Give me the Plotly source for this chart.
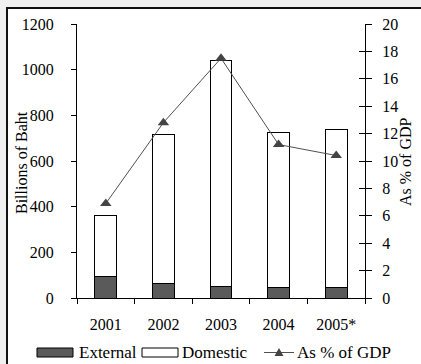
import plotly.graph_objects as go

# Public debt of Thailand, 2001-2005
years = ["2001", "2002", "2003", "2004", "2005*"]
external = [92, 63, 51, 48, 44]          # billions of baht
domestic = [268, 651, 991, 678, 695]     # billions of baht
pct_gdp = [6.9, 12.8, 17.5, 11.2, 10.4]  # as % of GDP

left_ticks = [0, 200, 400, 600, 800, 1000, 1200]
right_ticks = [0, 2, 4, 6, 8, 10, 12, 14, 16, 18, 20]

W, H = 421, 364
ML, MR, MT, MB = 77, 56, 24, 66
PW, PH = W - ML - MR, H - MT - MB

FONT = "Liberation Serif"
DARK = "#5a5a5a"
LINE = "#505050"


def px(x):
    return (x - ML) / PW


def py(y):
    return (H - MB - y) / PH


fig = go.Figure()

fig.add_trace(go.Bar(
    x=years, y=external, name="External",
    marker=dict(color=DARK, line=dict(color="black", width=1)),
    showlegend=False,
))
fig.add_trace(go.Bar(
    x=years, y=domestic, name="Domestic",
    marker=dict(color="white", line=dict(color="black", width=1)),
    showlegend=False,
))
fig.add_trace(go.Scatter(
    x=years, y=pct_gdp, name="As % of GDP", yaxis="y2",
    mode="lines+markers",
    line=dict(color=LINE, width=1),
    marker=dict(symbol="triangle-up", size=10, color="#444444"),
    showlegend=False,
))
# inner tick set on the right axis (ticks cross the axis line)
fig.add_trace(go.Scatter(x=years, y=pct_gdp, yaxis="y3", mode="none",
                         hoverinfo="skip", showlegend=False))

shapes = [
    # outer frame
    dict(type="rect", xref="paper", yref="paper", layer="below",
         x0=px(7), x1=px(W + 10), y0=py(H + 10), y1=py(8),
         fillcolor="white", line=dict(color="#111111", width=2)),
]

# legend swatches
sw_y0, sw_y1 = py(357), py(348)
shapes.append(dict(type="rect", xref="paper", yref="paper",
                   x0=px(37), x1=px(73), y0=sw_y0, y1=sw_y1,
                   fillcolor=DARK, line=dict(color="black", width=1)))
shapes.append(dict(type="rect", xref="paper", yref="paper",
                   x0=px(142), x1=px(178), y0=sw_y0, y1=sw_y1,
                   fillcolor="white", line=dict(color="black", width=1)))
shapes.append(dict(type="line", xref="paper", yref="paper",
                   x0=px(264), x1=px(294), y0=py(352.5), y1=py(352.5),
                   line=dict(color=LINE, width=1)))
tx, ty = 279, 352.5
shapes.append(dict(type="path", xref="paper", yref="paper",
                   path=f"M {px(tx - 4.5)} {py(ty + 3.5)} L {px(tx + 4.5)} {py(ty + 3.5)} "
                        f"L {px(tx)} {py(ty - 4.5)} Z",
                   fillcolor="#444444", line=dict(color="#444444", width=0)))

legend_labels = [("External", 77), ("Domestic", 180), ("As % of GDP", 295)]
annotations = [
    dict(text=t, xref="paper", yref="paper", x=px(x0), y=py(352),
         xanchor="left", yanchor="middle", showarrow=False,
         font=dict(family=FONT, size=17, color="black"))
    for t, x0 in legend_labels
]
# axis titles
annotations.append(dict(text="Billions of Baht", xref="paper", yref="paper",
                        x=px(21), y=py(163), textangle=-90, showarrow=False,
                        xanchor="center", yanchor="middle",
                        font=dict(family=FONT, size=16, color="black")))
annotations.append(dict(text="As % of GDP", xref="paper", yref="paper",
                        x=px(406), y=py(162), textangle=-90, showarrow=False,
                        xanchor="center", yanchor="middle",
                        font=dict(family=FONT, size=16, color="black")))

fig.update_layout(
    width=W, height=H,
    margin=dict(l=ML, r=MR, t=MT, b=MB, pad=0),
    paper_bgcolor="#f0f0f0",
    plot_bgcolor="rgba(0,0,0,0)",
    barmode="stack",
    bargap=0.62,
    font=dict(family=FONT, size=16, color="black"),
    showlegend=False,
    shapes=shapes,
    annotations=annotations,
    xaxis=dict(
        type="category",
        showline=True, linecolor="black", linewidth=1,
        ticks="outside", ticklen=5, tickcolor="black",
        tickson="boundaries",
        ticklabelstandoff=12,
        showgrid=False, zeroline=False,
    ),
    yaxis=dict(
        range=[0, 1200], tickvals=left_ticks,
        showline=True, linecolor="black", linewidth=1,
        ticks="outside", ticklen=5, tickcolor="black",
        ticklabelstandoff=14,
        showgrid=False, zeroline=False,
    ),
    yaxis2=dict(
        range=[0, 20], tickvals=right_ticks,
        overlaying="y", side="right", anchor="x",
        showline=True, linecolor="black", linewidth=1,
        ticks="outside", ticklen=6, tickcolor="black",
        ticklabelstandoff=7,
        showgrid=False, zeroline=False,
    ),
    yaxis3=dict(
        range=[0, 20], tickvals=right_ticks,
        overlaying="y", side="right", anchor="x",
        showline=False, showticklabels=False,
        ticks="inside", ticklen=6, tickwidth=1, tickcolor="black",
        showgrid=False, zeroline=False,
    ),
)

fig.write_html("out.html")
